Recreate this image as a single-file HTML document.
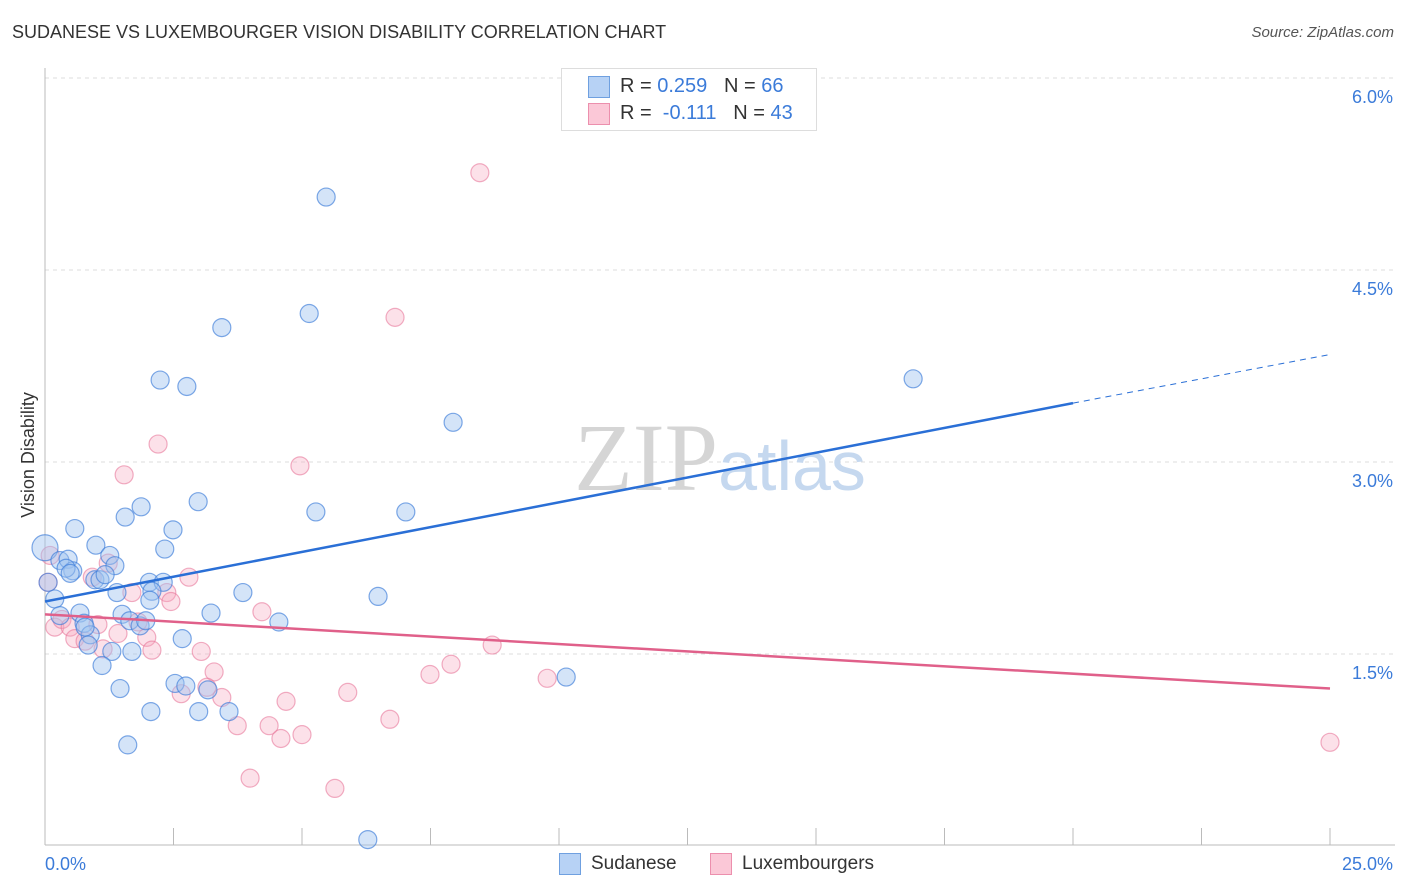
<!DOCTYPE html>
<html><head><meta charset="utf-8"><style>
body{margin:0;background:#fff;font-family:"Liberation Sans",sans-serif;}
#wrap{position:relative;width:1406px;height:892px;overflow:hidden;}
.t{position:absolute;white-space:nowrap;}
</style></head><body>
<div id="wrap">
<div class="t" style="left:12px;top:22px;font-size:18px;color:#333;">SUDANESE VS LUXEMBOURGER VISION DISABILITY CORRELATION CHART</div>
<div class="t" style="right:12px;top:24px;font-size:15px;color:#555;font-style:italic;">Source: ZipAtlas.com</div>
<svg id="svg" width="1406" height="892" style="position:absolute;left:0;top:0"></svg>
</div>
<script>
const sudX=[0,0.29,0.45,0.54,0.06,0.19,0.29,0.68,0.76,0.88,0.78,0.58,0.99,0.97,1.07,1.26,1.36,1.17,1.4,1.5,1.3,1.11,0.84,1.56,1.87,1.65,1.85,1.96,1.69,1.46,1.61,2.06,2.24,2.76,2.33,2.49,2.98,2.03,2.3,2.08,2.04,2.67,2.53,2.74,3.17,2.99,3.58,3.23,3.85,4.55,3.44,5.14,5.47,5.27,7.02,7.94,6.48,10.14,6.28,16.89,0.41,0.49];
const sudY=[2.33,2.23,2.24,2.15,2.06,1.93,1.8,1.82,1.74,1.65,1.71,2.48,2.35,2.08,2.08,2.27,2.19,2.12,1.98,1.81,1.52,1.41,1.57,2.57,2.65,1.76,1.72,1.76,1.52,1.23,0.79,1.05,3.64,3.59,2.32,2.47,2.69,2.06,2.06,1.99,1.92,1.62,1.27,1.25,1.22,1.05,1.05,1.82,1.98,1.75,4.05,4.16,5.07,2.61,2.61,3.31,1.95,1.32,0.05,3.65,2.17,2.13];
const luxX=[0.06,0.1,0.19,0.33,0.49,0.58,0.78,1.03,1.13,0.92,1.23,1.42,1.54,1.69,1.81,1.98,2.08,2.2,2.37,2.45,2.8,3.04,3.29,3.15,2.65,3.44,3.74,3.99,4.22,4.36,4.59,4.69,5,4.96,5.64,5.89,6.71,6.81,7.49,7.9,8.7,9.77,8.46,25];
const luxY=[2.06,2.27,1.71,1.77,1.71,1.62,1.6,1.73,1.54,2.1,2.21,1.66,2.9,1.98,1.75,1.63,1.53,3.14,1.98,1.91,2.1,1.52,1.36,1.24,1.19,1.16,0.94,0.53,1.83,0.94,0.84,1.13,0.87,2.97,0.45,1.2,0.99,4.13,1.34,1.42,1.57,1.31,5.26,0.81];
const xTicks=[0,25];const yTicks=[1.5,3.0,4.5,6.0];
const sudFit=[1.91,3.46];const sudExt=3.84;const luxFit=[1.81,1.23];
const X=v=>45+v*51.4, Y=v=>654-(v-1.5)*128;
const svg=document.getElementById('svg');const NS='http://www.w3.org/2000/svg';
function mk(tag,at){const e=document.createElementNS(NS,tag);for(const k in at)e.setAttribute(k,at[k]);svg.appendChild(e);return e;}
yTicks.forEach(v=>{const l=mk('line',{x1:45,x2:1395,y1:Y(v),y2:Y(v),stroke:'#ddd','stroke-dasharray':'4,4'});


const t=mk('text',{x:1393,y:Y(v)+25,'text-anchor':'end','font-size':18,fill:'#3b7bd9','font-family':'Liberation Sans'});t.textContent=v.toFixed(1)+'%';

});
const ax=mk('line',{x1:45,x2:45,y1:68,y2:845,stroke:'#bbb'});


const bx=mk('line',{x1:45,x2:1395,y1:845,y2:845,stroke:'#bbb'});


for(let i=0;i<=10;i++){const tk=mk('line',{x1:X(i*2.5),x2:X(i*2.5),y1:828,y2:845,stroke:'#bbb'});

}
xTicks.forEach((v,i)=>{const t=mk('text',{x:i?1393:45,y:870,'text-anchor':i?'end':'start','font-size':18,fill:'#3b7bd9','font-family':'Liberation Sans'});t.textContent=v.toFixed(1)+'%';

});
const yt=mk('text',{x:34,y:455,'text-anchor':'middle','font-size':18,fill:'#333',transform:'rotate(-90 34 455)','font-family':'Liberation Sans'});yt.textContent='Vision Disability';


const wm=mk('text',{x:720,y:490,'text-anchor':'middle','font-size':96,'font-family':'Liberation Serif'});


wm.innerHTML='<tspan fill="#d5d5d5">ZIP</tspan><tspan fill="#c5d8ef" font-family="Liberation Sans" font-size="70">atlas</tspan>';
luxX.forEach((v,i)=>{const c=mk('circle',{cx:X(v),cy:Y(luxY[i]),r:9,fill:'rgba(247,168,192,0.35)',stroke:'rgba(232,120,155,0.6)','stroke-width':1.2});

});
sudX.forEach((v,i)=>{const c=mk('circle',{cx:X(v),cy:Y(sudY[i]),r:i==0?13:9,fill:'rgba(160,196,240,0.45)',stroke:'rgba(59,123,217,0.65)','stroke-width':1.2});

});
const l1=mk('line',{x1:X(0),y1:Y(sudFit[0]),x2:X(20),y2:Y(sudFit[1]),stroke:'#2a6fd6','stroke-width':2.5});


const l2=mk('line',{x1:X(20),y1:Y(sudFit[1]),x2:X(25),y2:Y(sudExt),stroke:'#2a6fd6','stroke-width':1,'stroke-dasharray':'6,5'});


const l3=mk('line',{x1:X(0),y1:Y(luxFit[0]),x2:X(25),y2:Y(luxFit[1]),stroke:'#e0608a','stroke-width':2.5});


</script>
<div style="position:absolute;left:561px;top:68px;width:254px;height:61px;border:1px solid #ddd;background:#fff;font-size:20px;color:#333;">
<div style="position:absolute;left:26px;top:7px;width:20px;height:20px;background:#b7d2f5;border:1px solid #6fa0e0;"></div>
<div class="t" style="left:58px;top:6px;">R = <span style="color:#3b7bd9">0.259</span>&nbsp;&nbsp;&nbsp;N = <span style="color:#3b7bd9">66</span></div>
<div style="position:absolute;left:26px;top:34px;width:20px;height:20px;background:#fbc8d7;border:1px solid #ec8fad;"></div>
<div class="t" style="left:58px;top:33px;">R = &nbsp;<span style="color:#3b7bd9">-0.111</span>&nbsp;&nbsp;&nbsp;N = <span style="color:#3b7bd9">43</span></div>
</div>
<div style="position:absolute;left:559px;top:853px;width:20px;height:20px;background:#b7d2f5;border:1px solid #6fa0e0;"></div>
<div class="t" style="left:591px;top:853px;font-size:19px;color:#333;">Sudanese</div>
<div style="position:absolute;left:710px;top:853px;width:20px;height:20px;background:#fbc8d7;border:1px solid #ec8fad;"></div>
<div class="t" style="left:742px;top:853px;font-size:19px;color:#333;">Luxembourgers</div>
</body></html>
